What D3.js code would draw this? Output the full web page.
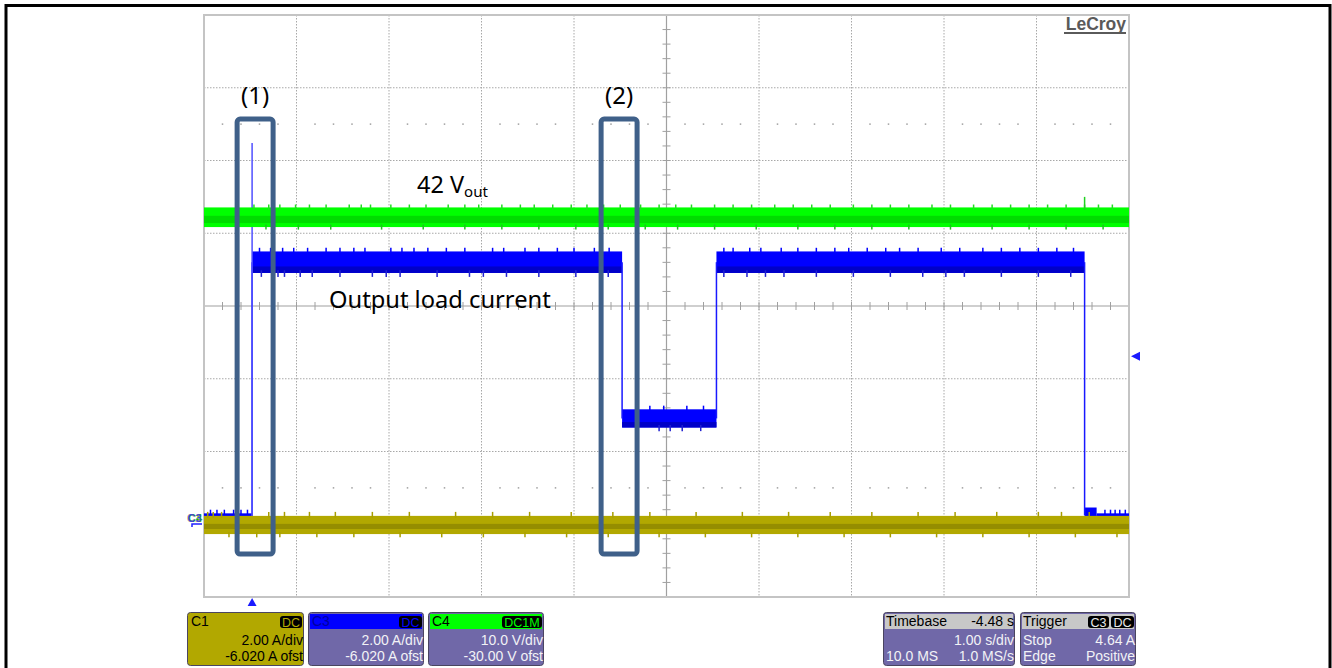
<!DOCTYPE html>
<html><head><meta charset="utf-8">
<script src="https://cdn.jsdelivr.net/npm/d3@7"></script>
<style>body{margin:0;background:#fff;} svg{display:block;}</style>
</head><body>
<svg id="c" width="1332" height="668"></svg>
<script>
// ---- axes / settings ----
const timeDomain = [-0.52, 9.48];   // s (1.00 s/div, trigger at 0, timebase -4.48 s)
const ampDomain  = [-1.98, 14.02];  // A (C1/C3 2.00 A/div, -6.020 A ofst)
const voltDomain = [-10, 70];       // V (C4 10.0 V/div, -30.00 V ofst)
const xDivs = 10, yDivs = 8, subDivs = 5;

// ---- C3 (output load current) segments ----
const c3SegStart = [-0.52, 0.00, 4.00, 5.02, 9.00, 9.13];
const c3SegEnd   = [ 0.00, 4.00, 5.02, 9.00, 9.13, 9.48];
const c3SegLow   = [-0.20, 6.93, 2.68, 6.93, 0.05, -0.20];
const c3SegHigh  = [ 0.32, 7.52, 3.18, 7.52, 0.48, 0.32];
const c3SpikeTime = 0.0, c3SpikePeak = 10.5;
const c3UpSpikes   = [0.08,0.2,0.33,0.45,0.6,0.8,0.95,1.1,1.22,1.5,1.62,1.75,1.9,2.1,2.3,2.6,2.72,2.95,3.1,3.3,3.48,3.7,3.86,5.1,5.2,5.38,5.5,5.72,5.9,6.1,6.3,6.45,6.65,6.85,7.0,7.2,7.45,7.65,7.9,8.1,8.3,8.5,8.7,8.88];
const c3DownSpikes = [0.1,0.28,0.35,0.52,0.65,0.95,1.3,1.45,1.6,2.0,2.35,2.5,2.75,3.1,3.5,3.85,5.1,5.35,5.55,5.75,6.1,6.5,6.9,7.25,7.5,7.7,8.1,8.5,8.85];
const c3LowUpSpikes = [4.3, 4.45, 4.7, 4.88], c3LowDownSpikes = [4.15, 4.4, 4.52, 4.65, 4.85];
const c3ZeroSpikes = [-0.45,-0.38,-0.3,-0.2,-0.12,-0.05,9.22,9.28,9.33,9.38,9.44];
const c3UpPeak = 7.62, c3DownPeak = 6.82, c3LowUpPeak = 3.28, c3LowDownPeak = 2.58, c3ZeroPeak = 0.42;

// ---- C1 (olive) ----
const c1Low = -0.25, c1High = 0.25, c1CoreLow = -0.11, c1CoreHigh = 0.03;
const c1UpSpikes   = [-0.48,-0.42,-0.33,0.18,0.35,0.62,0.9,1.3,1.7,2.2,2.6,3.0,3.45,3.9,4.3,4.8,5.3,5.8,6.25,6.7,7.2,7.6,8.05,8.5,8.75,9.05];
const c1DownSpikes = [-0.25,0.05,0.3,0.7,1.1,1.6,2.05,2.5,2.95,3.4,3.85,4.4,4.9,5.4,5.9,6.4,6.9,7.4,7.9,8.4,8.9,9.35];
const c1UpPeak = 0.36, c1DownPeak = -0.34;

// ---- C4 (42 V out, green) ----
const c4Low = 40.85, c4High = 43.55, c4CoreLow = 41.4, c4CoreHigh = 42.4;
const c4UpSpikes   = [0.02,0.18,0.3,0.47,0.62,0.8,1.05,1.18,1.28,1.5,1.7,1.88,2.12,2.3,2.45,2.7,2.9,3.05,3.25,3.45,3.62,3.8,3.98,4.2,4.4,4.58,4.75,5.0,5.2,5.4,5.65,5.85,6.05,6.25,6.5,6.7,6.9,7.1,7.35,7.55,7.8,8.0,8.2,8.4,8.6,8.8,9.0,9.15,9.3];
const c4DownSpikes = [0.15,0.5,0.85,1.4,1.85,2.3,2.7,3.1,3.5,3.85,4.25,4.6,5.0,5.45,5.9,6.3,6.7,7.1,7.55,8.0,8.4,8.8,9.2];
const c4UpPeak = 43.95, c4DownPeak = 40.5, c4BigSpikeTime = 9.0, c4BigSpikePeak = 45.0;

// ---- annotations ----
const boxLabels = ["(1)", "(2)"];
const boxT0 = [-0.162, 3.773], boxT1 = [0.227, 4.162];
const boxA0 = [-0.80, -0.80],  boxA1 = [11.16, 11.16];
const labelVout = "42 V", labelVoutSub = "out";
const labelCurrent = "Output load current";
const trigLevel = 4.64;

// ---- info panels ----
const chanNames  = ["C1", "C3", "C4"];
const chanCoupl  = ["DC", "DC", "DC1M"];
const chanScale  = ["2.00 A/div", "2.00 A/div", "10.0 V/div"];
const chanOffset = ["-6.020 A ofst", "-6.020 A ofst", "-30.00 V ofst"];
const tbHeader = ["Timebase", "-4.48 s"], tbRow2 = ["", "1.00 s/div"], tbRow3 = ["10.0 MS", "1.0 MS/s"];
const trgHeader = "Trigger", trgBadges = ["C3", "DC"], trgRow2 = ["Stop", "4.64 A"], trgRow3 = ["Edge", "Positive"];

// ================= drawing =================
const svg = d3.select("#c");
const L = 204, R = 1129, T = 15, B = 597;
const x  = d3.scaleLinear().domain(timeDomain).range([L, R]);
const yA = d3.scaleLinear().domain(ampDomain).range([B, T]);
const yV = d3.scaleLinear().domain(voltDomain).range([B, T]);
const cx = (L + R) / 2, cy = (T + B) / 2;
const dx = (R - L) / xDivs, dy = (B - T) / yDivs;

// outer frame
svg.append("path").attr("d", `M6,668 L6,5.5 L1330,5.5 L1330,668`).attr("fill","none").attr("stroke","#000").attr("stroke-width",3);

// grid
const g = svg.append("g");
for (let i = 1; i < xDivs; i++) {
  if (i === xDivs/2) continue;
  g.append("line").attr("x1", L+i*dx).attr("x2", L+i*dx).attr("y1", T).attr("y2", B)
    .attr("stroke","#a8a8a8").attr("stroke-width",1).attr("stroke-dasharray","1.5,1.5");
}
for (let j = 1; j < yDivs; j++) {
  if (j === yDivs/2) continue;
  g.append("line").attr("y1", T+j*dy).attr("y2", T+j*dy).attr("x1", L).attr("x2", R)
    .attr("stroke","#a8a8a8").attr("stroke-width",1).attr("stroke-dasharray","1.5,1.5");
}
// dot rows at +/- 2.5 div
[cy - 2.5*dy, cy + 2.5*dy].forEach(yy => {
  for (let k = 1; k < xDivs*subDivs; k++) {
    if (k % subDivs === 0) continue;
    g.append("rect").attr("x", L + k*dx/subDivs - 0.75).attr("y", yy-0.75).attr("width",1.5).attr("height",1.5).attr("fill","#a0a0a0");
  }
});
// center axes
g.append("line").attr("x1", cx).attr("x2", cx).attr("y1", T).attr("y2", B).attr("stroke","#a0a0a0").attr("stroke-width",1.2);
g.append("line").attr("x1", L).attr("x2", R).attr("y1", cy).attr("y2", cy).attr("stroke","#a0a0a0").attr("stroke-width",1.2);
for (let k = 1; k < xDivs*subDivs; k++) {
  if (k === xDivs*subDivs/2) continue;
  g.append("line").attr("x1", L+k*dx/subDivs).attr("x2", L+k*dx/subDivs).attr("y1", cy-4).attr("y2", cy+4).attr("stroke","#a0a0a0");
}
for (let k = 1; k < yDivs*subDivs; k++) {
  if (k === yDivs*subDivs/2) continue;
  g.append("line").attr("y1", T+k*dy/subDivs).attr("y2", T+k*dy/subDivs).attr("x1", cx-4).attr("x2", cx+4).attr("stroke","#a0a0a0");
}
// border
g.append("rect").attr("x", L).attr("y", T).attr("width", R-L).attr("height", B-T).attr("fill","none").attr("stroke","#c4c4c4").attr("stroke-width",2);

// LeCroy logo
svg.append("text").attr("x", 1126).attr("y", 30).attr("text-anchor","end")
  .attr("font-family","Liberation Sans, Arial").attr("font-weight","bold").attr("font-size",17.5)
  .attr("fill","#5a5a5a").text("LeCroy");
svg.append("line").attr("x1",1064).attr("x2",1126).attr("y1",33).attr("y2",33).attr("stroke","#5a5a5a").attr("stroke-width",2);

const tr = svg.append("g");
function spikes(times, from, to, scale, color, w) {
  times.forEach(t => tr.append("line").attr("x1", x(t)).attr("x2", x(t))
    .attr("y1", scale(from)).attr("y2", scale(to)).attr("stroke", color).attr("stroke-width", w || 1.5));
}

// ---- C3 blue ----
const blue = "#0000ff", blueDark = "#0000c8";
c3SegStart.forEach((s, i) => {
  const e = c3SegEnd[i], lo = c3SegLow[i], hi = c3SegHigh[i];
  tr.append("rect").attr("x", x(s)).attr("width", x(e)-x(s)).attr("y", yA(hi)).attr("height", yA(lo)-yA(hi)).attr("fill", blue);
  const coreHi = lo + (hi-lo)*0.3;
  tr.append("rect").attr("x", x(s)).attr("width", x(e)-x(s)).attr("y", yA(coreHi)).attr("height", yA(lo)-yA(coreHi)).attr("fill", blueDark);
});
for (let i = 0; i < c3SegStart.length-1; i++) {
  const m1 = (c3SegLow[i]+c3SegHigh[i])/2, m2 = (c3SegLow[i+1]+c3SegHigh[i+1])/2;
  tr.append("line").attr("x1", x(c3SegEnd[i])).attr("x2", x(c3SegEnd[i]))
    .attr("y1", yA(m1)).attr("y2", yA(m2)).attr("stroke", "#1818ff").attr("stroke-width", 1.5);
}
tr.append("line").attr("x1", x(c3SpikeTime)).attr("x2", x(c3SpikeTime)).attr("y1", yA(0)).attr("y2", yA(c3SpikePeak))
  .attr("stroke","#5050ff").attr("stroke-width",1.5);
spikes(c3UpSpikes, 7.4, c3UpPeak, yA, blue);
spikes(c3DownSpikes, 7.0, c3DownPeak, yA, "#2020d0");
spikes(c3LowUpSpikes, 3.1, c3LowUpPeak, yA, blue);
spikes(c3LowDownSpikes, 2.75, c3LowDownPeak, yA, "#2020d0");
spikes(c3ZeroSpikes, 0.2, c3ZeroPeak, yA, blue);

// ---- C1 olive ----
tr.append("rect").attr("x", L).attr("width", R-L).attr("y", yA(c1High)).attr("height", yA(c1Low)-yA(c1High)).attr("fill","#b2a800");
tr.append("rect").attr("x", L).attr("width", R-L).attr("y", yA(c1CoreHigh)).attr("height", yA(c1CoreLow)-yA(c1CoreHigh)).attr("fill","#958d00");
spikes(c1UpSpikes, 0.2, c1UpPeak, yA, "#a89e00");
spikes(c1DownSpikes, -0.2, c1DownPeak, yA, "#a89e00");

// ---- C4 green ----
tr.append("rect").attr("x", L).attr("width", R-L).attr("y", yV(c4High)).attr("height", yV(c4Low)-yV(c4High)).attr("fill","#00ff00");
tr.append("rect").attr("x", L).attr("width", R-L).attr("y", yV(c4CoreHigh)).attr("height", yV(c4CoreLow)-yV(c4CoreHigh)).attr("fill","#00dc00");
spikes(c4UpSpikes, 43.2, c4UpPeak, yV, "#20e020");
spikes(c4DownSpikes, 41.2, c4DownPeak, yV, "#20c020");
spikes([c4BigSpikeTime], 43.2, c4BigSpikePeak, yV, "#20d020");

// channel ground markers on the left
const gy = yA(0);
svg.append("text").attr("x",188).attr("y",gy-3).attr("font-family","Liberation Sans, Arial").attr("font-size",11).attr("font-weight","bold").attr("fill","#00e000").text("C4");
svg.append("text").attr("x",187).attr("y",gy-3).attr("font-family","Liberation Sans, Arial").attr("font-size",11).attr("font-weight","bold").attr("fill","#b0a800").attr("opacity",0.8).text("C1");
svg.append("text").attr("x",187.5).attr("y",gy-3).attr("font-family","Liberation Sans, Arial").attr("font-size",11).attr("font-weight","bold").attr("fill","#3030ff").attr("opacity",0.85).text("C3");
svg.append("path").attr("d", `M192,${gy+2} L192,${gy-1} L202,${gy-1}`).attr("fill","none").attr("stroke","#2020ff").attr("stroke-width",1.5);

// trigger markers
svg.append("path").attr("d", `M${x(0)},598 L${x(0)+4.5},606 L${x(0)-4.5},606 Z`).attr("fill","#1a1aff");
const ty = yA(trigLevel);
svg.append("path").attr("d", `M1131,${ty} L1140,${ty-4.5} L1140,${ty+4.5} Z`).attr("fill","#1a1aff");

// annotation boxes
const an = svg.append("g");
boxLabels.forEach((lab, i) => {
  an.append("rect").attr("x", x(boxT0[i])).attr("y", yA(boxA1[i]))
    .attr("width", x(boxT1[i]) - x(boxT0[i])).attr("height", yA(boxA0[i]) - yA(boxA1[i]))
    .attr("rx", 3).attr("fill","none").attr("stroke","#3f6089").attr("stroke-width",5);
  an.append("text").attr("x", (x(boxT0[i]) + x(boxT1[i]))/2).attr("y", 104).attr("text-anchor","middle")
    .attr("font-family","Noto Sans, sans-serif").attr("font-size",24).attr("fill","#000").text(lab);
});
const tv = an.append("text").attr("x", 417).attr("y", 193).attr("font-family","Noto Sans, sans-serif").attr("font-size",23.5).attr("fill","#000");
tv.append("tspan").text(labelVout);
tv.append("tspan").attr("font-size",15).attr("dy",4).text(labelVoutSub);
an.append("text").attr("x", 329).attr("y", 308).attr("font-family","Noto Sans, sans-serif").attr("font-size",23.7).attr("fill","#000").text(labelCurrent);

// ---- info panels ----
const pf = "Liberation Sans, Arial, sans-serif";
const bodyCol = "#7068a8", txtCol = "#f2f2f6";
const panelX = [187, 308, 428], panelW = [116, 115, 115];
const chanCol = ["#b2a800", "#0000ff", "#00ff00"];
const badgeW = [22, 23, 40];
const pT = 612, pB = 665;
chanNames.forEach((nm, i) => {
  const px = panelX[i], pw = panelW[i];
  svg.append("rect").attr("x", px+0.5).attr("y", pT+0.5).attr("width", pw).attr("height", pB-pT).attr("rx",3)
    .attr("fill", i === 0 ? chanCol[0] : bodyCol).attr("stroke","#4a4560");
  if (i > 0) svg.append("rect").attr("x", px+2).attr("y", pT+2).attr("width", pw-3).attr("height", 15).attr("fill", chanCol[i]);
  svg.append("text").attr("x", px+4).attr("y", pT+14).attr("font-family",pf).attr("font-size",14)
    .attr("fill", i === 1 ? "#0000a0" : "#000").text(nm);
  svg.append("rect").attr("x", px+pw-badgeW[i]-1).attr("y", pT+4).attr("width", badgeW[i]).attr("height", 12).attr("rx",3).attr("fill","#000");
  svg.append("text").attr("x", px+pw-1-badgeW[i]/2).attr("y", pT+14.5).attr("text-anchor","middle").attr("font-family",pf)
    .attr("font-size",12.5).attr("fill", chanCol[i]).text(chanCoupl[i]);
  const tc = i === 0 ? "#000" : txtCol;
  svg.append("text").attr("x", px+pw).attr("y", pT+33).attr("text-anchor","end").attr("font-family",pf).attr("font-size",14).attr("fill",tc).text(chanScale[i]);
  svg.append("text").attr("x", px+pw).attr("y", pT+49).attr("text-anchor","end").attr("font-family",pf).attr("font-size",14).attr("fill",tc).text(chanOffset[i]);
});

// timebase panel
function infoPanel(px, pw, hdrL, hdrR, r2, r3) {
  svg.append("rect").attr("x", px+0.5).attr("y", pT+0.5).attr("width", pw).attr("height", pB-pT).attr("rx",3).attr("fill", bodyCol).attr("stroke","#4a4560");
  svg.append("rect").attr("x", px+2).attr("y", pT+2).attr("width", pw-3).attr("height", 15).attr("fill", "#c8c8c8");
  svg.append("text").attr("x", px+3).attr("y", pT+14).attr("font-family",pf).attr("font-size",14).attr("fill","#000").text(hdrL);
  if (hdrR) svg.append("text").attr("x", px+pw).attr("y", pT+14).attr("text-anchor","end").attr("font-family",pf).attr("font-size",14).attr("fill","#000").text(hdrR);
  [r2, r3].forEach((r, k) => {
    const yy = pT + 33 + k*16;
    if (r[0]) svg.append("text").attr("x", px+3).attr("y", yy).attr("font-family",pf).attr("font-size",14).attr("fill",txtCol).text(r[0]);
    svg.append("text").attr("x", px+pw).attr("y", yy).attr("text-anchor","end").attr("font-family",pf).attr("font-size",14).attr("fill",txtCol).text(r[1]);
  });
}
infoPanel(883, 131, tbHeader[0], tbHeader[1], tbRow2, tbRow3);
infoPanel(1020, 115, trgHeader, null, trgRow2, trgRow3);
const bx = [1088, 1111], bw = [21, 23];
trgBadges.forEach((b, i) => {
  svg.append("rect").attr("x", bx[i]).attr("y", pT+4).attr("width", bw[i]).attr("height", 12).attr("rx",3).attr("fill","#000");
  svg.append("text").attr("x", bx[i]+bw[i]/2).attr("y", pT+14.5).attr("text-anchor","middle").attr("font-family",pf).attr("font-size",12.5).attr("fill","#e8e8e8").text(b);
});
</script></body></html>
